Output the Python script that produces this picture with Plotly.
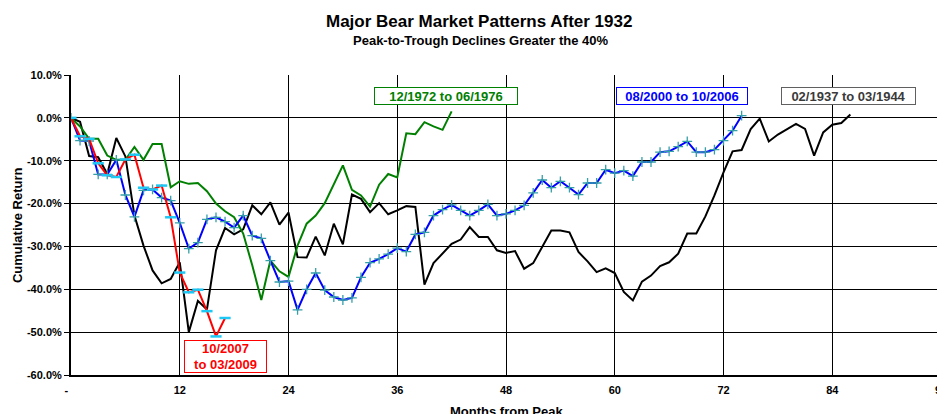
import plotly.graph_objects as go

# ---- data (cumulative return %, monthly from peak) ----
red_label = "10/2007<br>to 03/2009"
red_vals = [0, -4.3, -4.9, -10.6, -13.4, -13.8, -9.7, -8.6, -16.3, -16.7, -15.8,
            -23.2, -36.1, -40.7, -40.1, -45.1, -51.0, -46.7]

blue_label = "08/2000 to 10/2006"
blue_vals = [0, -5.3, -5.4, -13.2, -13.2, -9.8, -18.0, -23.1, -16.9, -16.7, -18.6,
             -19.3, -24.5, -30.5, -29.1, -23.7, -23.2, -24.2, -25.6, -22.8, -27.5,
             -28.1, -33.3, -38.3, -38.1, -44.8, -40.0, -36.2, -40.2, -41.8, -42.5,
             -42.0, -37.2, -33.8, -32.9, -31.8, -30.4, -31.2, -27.2, -26.7, -22.8,
             -21.4, -20.3, -21.6, -22.8, -21.6, -20.2, -22.8, -22.4, -21.6, -20.4,
             -17.5, -14.5, -16.3, -14.8, -16.3, -17.9, -15.2, -15.2, -12.1, -12.9,
             -12.3, -13.6, -10.3, -10.3, -8.0, -7.8, -6.7, -5.5, -8.0, -8.0,
             -7.4, -5.3, -3.0, 0.5]

green_label = "12/1972 to 06/1976"
green_vals = [0, -2.0, -4.9, -4.9, -8.8, -9.8, -9.8, -6.8, -9.8, -6.1, -6.1,
              -16.2, -14.8, -15.4, -15.2, -17.1, -20.0, -21.8, -23.2, -27.0, -34.4,
              -42.5, -33.3, -35.8, -37.1, -29.8, -24.7, -22.8, -19.9, -15.3, -11.1,
              -16.8, -18.1, -20.7, -15.6, -13.1, -13.9, -3.6, -3.8, -1.0, -2.0,
              -2.8, 1.5]

black_label = "02/1937 to 03/1944"
black_vals = [0, -0.9, -8.9, -9.2, -13.1, -4.7, -9.0, -22.8, -29.8, -35.6, -38.6,
              -37.6, -33.7, -50.0, -42.7, -44.7, -30.9, -25.7, -27.2, -26.0, -20.4,
              -22.5, -19.7, -24.9, -22.1, -32.5, -32.6, -27.7, -32.1, -24.7, -29.5,
              -17.9, -18.9, -22.0, -19.9, -22.5, -21.6, -20.6, -20.8, -38.9, -33.9,
              -31.7, -29.4, -28.4, -25.5, -27.8, -27.8, -30.9, -31.5, -31.1, -35.2,
              -33.9, -30.2, -26.3, -26.3, -26.7, -31.3, -33.5, -36.0, -35.1, -36.2,
              -40.6, -42.6, -38.2, -36.8, -34.6, -33.7, -31.7, -27.0, -27.0, -23.0,
              -18.1, -12.7, -7.8, -7.5, -2.6, -0.2, -5.5, -3.9, -2.6, -1.4,
              -2.6, -8.8, -3.4, -1.6, -1.2, 0.8]

x_tickvals = [0, 12, 24, 36, 48, 60, 72, 84, 96]
x_ticktext = ["-\u00a0\u00a0\u00a0", "12", "24", "36", "48", "60", "72", "84", "96"]
y_tickvals = [10, 0, -10, -20, -30, -40, -50, -60]
y_ticktext = ["10.0%", "0.0%", "-10.0%", "-20.0%", "-30.0%", "-40.0%", "-50.0%", "-60.0%"]

FONT = "Liberation Sans, Arial, sans-serif"

fig = go.Figure()

fig.add_trace(go.Scatter(x=list(range(len(black_vals))), y=black_vals, mode="lines",
                         line=dict(color="black", width=2), name=black_label))
fig.add_trace(go.Scatter(x=list(range(len(green_vals))), y=green_vals, mode="lines",
                         line=dict(color="#008000", width=2), name=green_label))
fig.add_trace(go.Scatter(x=list(range(len(blue_vals))), y=blue_vals, mode="lines+markers",
                         line=dict(color="#0000FF", width=2),
                         marker=dict(symbol="cross-thin", size=7, color="#35A0A8",
                                     line=dict(color="#35A0A8", width=1.3)),
                         name=blue_label))
fig.add_trace(go.Scatter(x=list(range(len(red_vals))), y=red_vals, mode="lines+markers",
                         line=dict(color="#FF0000", width=2),
                         marker=dict(symbol="line-ew", size=8, color="#1EC8F5",
                                     line=dict(color="#1EC8F5", width=2.5)),
                         name=red_label))

ann_font = dict(family=FONT, size=13, weight="bold")

annotations = [
    dict(text="Major Bear Market Patterns After 1932", xref="paper", yref="paper",
         x=(482 - 71) / 876.2, y=1.18, xanchor="center", yanchor="middle", showarrow=False,
         font=dict(family=FONT, size=17, weight="bold", color="black")),
    dict(text="Peak-to-Trough Declines Greater the 40%", xref="paper", yref="paper",
         x=(483 - 71) / 876.2, y=1.115, xanchor="center", yanchor="middle", showarrow=False,
         font=dict(family=FONT, size=13, weight="bold", color="black")),
    dict(text="Months from Peak", xref="x", yref="paper", x=48, y=-0.12,
         xanchor="center", yanchor="middle", showarrow=False,
         font=dict(family=FONT, size=13, weight="bold", color="black")),
    dict(text="Cumulative Return", xref="paper", yref="paper", x=(16.7 - 71) / 876.2,
         y=(375 - 225) / 300, xanchor="center", yanchor="middle", textangle=-90,
         showarrow=False, font=dict(family=FONT, size=13, weight="bold", color="black")),
    dict(text=green_label, x=41.43, y=5.2, xanchor="center", yanchor="middle",
         showarrow=False, width=142, height=16, borderpad=0, borderwidth=1,
         bordercolor="#008000", bgcolor="white", font=dict(ann_font, color="#008000")),
    dict(text=blue_label, x=67.47, y=5.2, xanchor="center", yanchor="middle",
         showarrow=False, width=130, height=16, borderpad=0, borderwidth=1,
         bordercolor="#0000FF", bgcolor="white", font=dict(ann_font, color="#0000FF")),
    dict(text=black_label, x=85.76, y=5.2, xanchor="center",
         yanchor="middle", showarrow=False, width=133, height=16, borderpad=0,
         borderwidth=1, bordercolor="#606060", bgcolor="white",
         font=dict(ann_font, color="#3A3A3A")),
    dict(text=red_label, x=17.04, y=-55.7, xanchor="center", yanchor="middle",
         showarrow=False, width=81, height=31, borderpad=0, borderwidth=1,
         bordercolor="#FF0000", bgcolor="white", font=dict(ann_font, color="#FF0000")),
]

# page has an 8px body margin: shift the figure so the plot lands where the reference has it
fig.update_layout(
    width=949, height=406,
    margin=dict(l=63, r=10, t=67, b=39),
    paper_bgcolor="white", plot_bgcolor="white",
    showlegend=False,
    font=dict(family=FONT, color="black"),
    annotations=annotations,
    xaxis=dict(range=[0, 96], tickvals=x_tickvals, ticktext=x_ticktext,
               showgrid=True, gridcolor="black", gridwidth=1,
               showline=True, linecolor="black", linewidth=2, mirror=False,
               ticks="", zeroline=False, ticklabeloverflow="allow",
               ticklabelstandoff=4,
               tickfont=dict(family=FONT, size=11, weight="bold", color="black")),
    yaxis=dict(range=[-60, 10], tickvals=y_tickvals, ticktext=y_ticktext,
               showgrid=True, gridcolor="black", gridwidth=1,
               showline=True, linecolor="black", linewidth=2,
               ticks="outside", ticklen=5, tickcolor="black", tickwidth=1,
               zeroline=False,
               tickfont=dict(family=FONT, size=11, weight="bold", color="black")),
)

fig.write_html("out.html")
